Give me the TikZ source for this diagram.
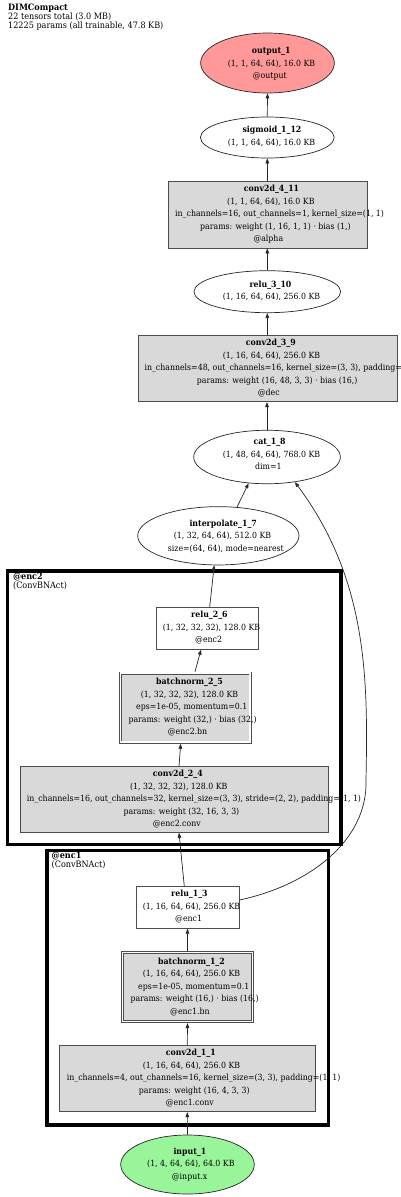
\documentclass[tikz,border=0pt]{standalone}
\usepackage{fontspec}
\setmainfont{DejaVu Serif}[FakeStretch=0.92]
\usetikzlibrary{arrows.meta,shapes.geometric}
\definecolor{boxline}{HTML}{4D4D4D}
\definecolor{opfill}{HTML}{D9D9D9}
\definecolor{outfill}{HTML}{FF9999}
\definecolor{infill}{HTML}{99F599}
\newcommand\ind[1]{\hspace*{#1pt}}
\tikzset{
  nt/.style={font=\fontsize{8.5}{12.5}\selectfont, align=left, inner sep=0pt, anchor=west},
  lt/.style={font=\fontsize{8.8}{9.2}\selectfont, align=left, inner sep=0pt, anchor=west},
  ell/.style={ellipse, draw=black!85, line width=0.7pt, inner sep=0pt},
  opbox/.style={rectangle, draw=boxline, line width=0.8pt, fill=opfill, inner sep=0pt},
  plainbox/.style={rectangle, draw=boxline, line width=0.8pt, fill=white, inner sep=0pt},
  bnbox/.style={rectangle, draw=boxline, line width=0.7pt, double=white, double distance=1.6pt, fill=opfill, inner sep=0pt},
  cluster/.style={rectangle, draw=black, line width=3.3pt, inner sep=0pt},
  edge/.style={draw=black!85, line width=0.7pt, -{Triangle[length=5pt,width=3.6pt]}}
}
\begin{document}
\begin{tikzpicture}[x=1pt,y=-1pt]
\useasboundingbox (0,0) rectangle (400,1197);
\fill[white] (0,0) rectangle (400,1197);

% title
\node[lt] (title) at (8,17.3) {\textbf{DIMCompact}\\22 tensors total (3.0 MB)\\12225 params (all trainable, 47.8 KB)};

% clusters
\node[cluster, minimum width=333.3, minimum height=273.3] (enc2) at (174.35,707.65) {};
\node[lt] (enc2l) at (12.9,581.3) {\textbf{@enc2}\\(ConvBNAct)};
\node[cluster, minimum width=281.3, minimum height=274.2] (enc1) at (187.65,987.9) {};
\node[lt] (enc1l) at (51.5,860.8) {\textbf{@enc1}\\(ConvBNAct)};

% shapes
\node[ell, fill=outfill, minimum width=133.7, minimum height=60] (out1) at (267.5,63) {};
\node[ell, fill=white, minimum width=133.7, minimum height=41] (sig12) at (267.3,137.5) {};
\node[opbox, minimum width=199, minimum height=67] (conv411) at (267.5,214.5) {};
\node[ell, fill=white, minimum width=146.7, minimum height=42] (relu310) at (267.3,291.7) {};
\node[opbox, minimum width=259.7, minimum height=66] (conv39) at (267.9,368.7) {};
\node[ell, fill=white, minimum width=146.7, minimum height=53.5] (cat18) at (267,457) {};
\node[ell, fill=white, minimum width=161.3, minimum height=58.3] (interp17) at (218.35,535.8) {};
\node[plainbox, minimum width=102.7, minimum height=42] (relu26) at (207.3,628.3) {};
\node[bnbox, minimum width=129.7, minimum height=68.9] (bn25) at (185.3,707.7) {};
\node[opbox, minimum width=308, minimum height=65.6] (conv24) at (174.7,799.5) {};
\node[plainbox, minimum width=103, minimum height=41.6] (relu13) at (187.5,907.5) {};
\node[bnbox, minimum width=130, minimum height=69] (bn12) at (187.5,987) {};
\node[opbox, minimum width=255.3, minimum height=66.4] (conv11) at (187.3,1078.5) {};
\node[ell, fill=infill, minimum width=133.6, minimum height=59] (input1) at (187.5,1164.5) {};

% texts
\node[nt] (out1t) at (227.7,63.8) {\ind{24}\textbf{output\_1}\\(1, 1, 64, 64), 16.0 KB\\\ind{25}@output};
\node[nt] (sig12t) at (227.7,136.5) {\ind{14.6}\textbf{sigmoid\_1\_12}\\(1, 1, 64, 64), 16.0 KB};
\node[nt] (conv411t) at (175,214.2) {\ind{68.7}\textbf{conv2d\_4\_11}\\\ind{52}(1, 1, 64, 64), 16.0 KB\\in\_channels=16, out\_channels=1, kernel\_size=(1, 1)\\\ind{25}params: weight (1, 16, 1, 1) · bias (1,)\\\ind{78.3}@alpha};
\node[nt] (relu310t) at (222.7,290.8) {\ind{26.6}\textbf{relu\_3\_10}\\(1, 16, 64, 64), 256.0 KB};
\node[nt] (conv39t) at (144.3,368.3) {\ind{101.4}\textbf{conv2d\_3\_9}\\\ind{78.4}(1, 16, 64, 64), 256.0 KB\\in\_channels=48, out\_channels=16, kernel\_size=(3, 3), padding=(1, 1)\\\ind{52.4}params: weight (16, 48, 3, 3) · bias (16,)\\\ind{113.4}@dec};
\node[nt] (cat18t) at (222.7,454.2) {\ind{30.6}\textbf{cat\_1\_8}\\(1, 48, 64, 64), 768.0 KB\\\ind{32.3}dim=1};
\node[nt] (interp17t) at (167.7,536) {\ind{21.6}\textbf{interpolate\_1\_7}\\\ind{6}(1, 32, 64, 64), 512.0 KB\\size=(64, 64), mode=nearest};
\node[nt] (relu26t) at (162.7,627.6) {\ind{28.3}\textbf{relu\_2\_6}\\(1, 32, 32, 32), 128.0 KB\\\ind{32.3}@enc2};
\node[nt] (bn25t) at (128.3,707.3) {\ind{27.7}\textbf{batchnorm\_2\_5}\\\ind{12.4}(1, 32, 32, 32), 128.0 KB\\\ind{7.7}eps=1e-05, momentum=0.1\\params: weight (32,) · bias (32,)\\\ind{39.4}@enc2.bn};
\node[nt] (conv24t) at (26.7,799) {\ind{126}\textbf{conv2d\_2\_4}\\\ind{103.3}(1, 32, 32, 32), 128.0 KB\\in\_channels=16, out\_channels=32, kernel\_size=(3, 3), stride=(2, 2), padding=(1, 1)\\\ind{96.6}params: weight (32, 16, 3, 3)\\\ind{126}@enc2.conv};
\node[nt] (relu13t) at (142.7,906.7) {\ind{28.3}\textbf{relu\_1\_3}\\(1, 16, 64, 64), 256.0 KB\\\ind{32.3}@enc1};
\node[nt] (bn12t) at (130.3,986.7) {\ind{27.7}\textbf{batchnorm\_1\_2}\\\ind{12.4}(1, 16, 64, 64), 256.0 KB\\\ind{7.7}eps=1e-05, momentum=0.1\\params: weight (16,) · bias (16,)\\\ind{39.7}@enc1.bn};
\node[nt] (conv11t) at (66.7,1078) {\ind{99}\textbf{conv2d\_1\_1}\\\ind{76}(1, 16, 64, 64), 256.0 KB\\in\_channels=4, out\_channels=16, kernel\_size=(3, 3), padding=(1, 1)\\\ind{72}params: weight (16, 4, 3, 3)\\\ind{99}@enc1.conv};
\node[nt] (input1t) at (147,1164.2) {\ind{26.3}\textbf{input\_1}\\(1, 4, 64, 64), 64.0 KB\\\ind{24.7}@input.x};

% edges
\coordinate (bend) at (366,780);
\draw[edge] (input1.north) -- (conv11.south);
\draw[edge] (conv11.north) -- ([yshift=-1.2pt]bn12.south);
\draw[edge] ([yshift=1.2pt]bn12.north) -- (relu13.south);
\draw[edge] ([xshift=-3.2pt]relu13.north) -- ([xshift=4.3pt]conv24.south);
\draw[edge] ([xshift=4.3pt]conv24.north) -- ([xshift=-4.6pt,yshift=-1.2pt]bn25.south);
\draw[edge] ([xshift=9.7pt,yshift=1.2pt]bn25.north) -- ([xshift=-6.3pt]relu26.south);
\draw[edge] ([xshift=2.4pt]relu26.north) -- (interp17.-98);
\draw[edge] (interp17.57) -- (cat18.-125);
\draw[edge] ([yshift=7.5pt]relu13.east) .. controls (310,885) and (368,840) .. (bend) .. controls (368,680) and (368,580) .. (cat18.-42);
\draw[edge] (cat18.north) -- (cat18.north |- conv39.south);
\draw[edge] (relu310.south |- conv39.north) -- (relu310.south);
\draw[edge] (relu310.north) -- (relu310.north |- conv411.south);
\draw[edge] (sig12.south |- conv411.north) -- (sig12.south);
\draw[edge] (sig12.north) -- (out1.south);
\end{tikzpicture}
\end{document}
